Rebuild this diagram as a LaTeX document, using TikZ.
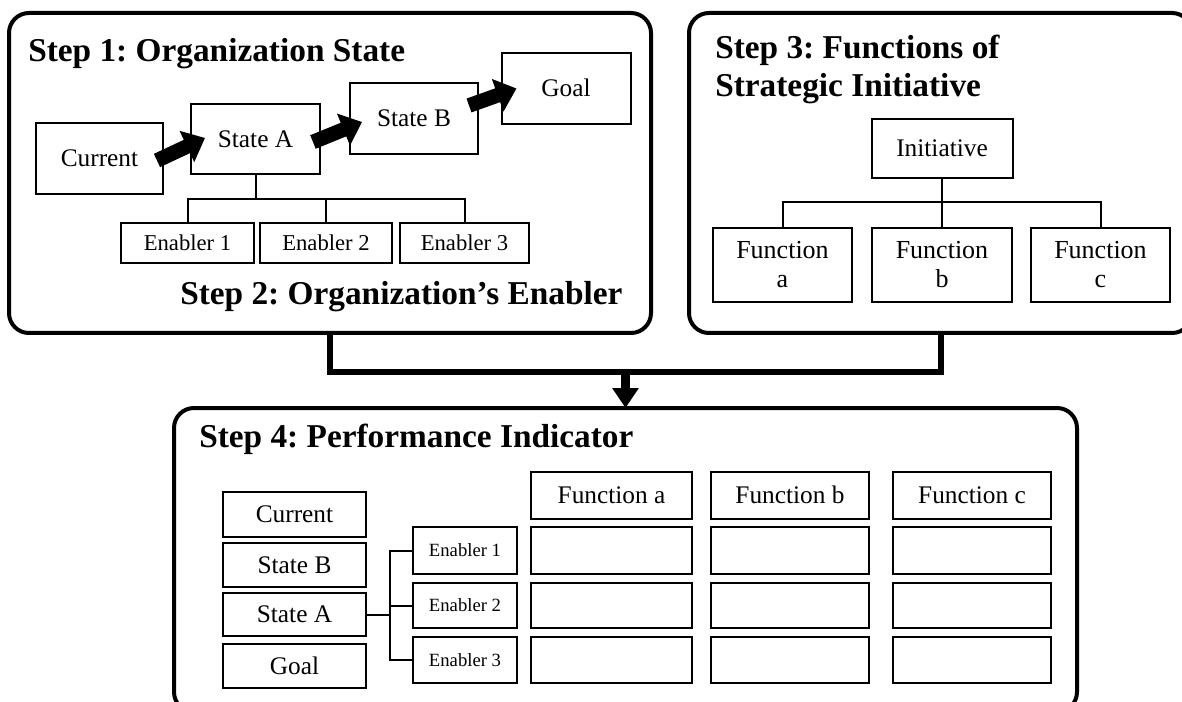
\documentclass[tikz,border=0pt]{standalone}
\usepackage{fontspec}
\setmainfont{Liberation Serif}
\usetikzlibrary{arrows.meta,calc}
\frenchspacing
\begin{document}
\frenchspacing
\begin{tikzpicture}[x=0.75pt,y=-0.75pt,
  bx/.style 2 args={draw,line width=1.5pt,inner sep=0pt,outer sep=0pt,
    minimum width=#1*0.75pt,minimum height=#2*0.75pt,
    font=\fontsize{19}{22}\selectfont,align=center},
  oneline/.style={text height=16.5pt,text depth=4pt},
  smallline/.style={font=\fontsize{17}{20}\selectfont,text height=14.5pt,text depth=3.5pt},
  tinyline/.style={font=\fontsize{14}{16}\selectfont,text height=12pt,text depth=3pt},
  outerbox/.style 2 args={draw,line width=3pt,rounded corners=15pt,inner sep=0pt,outer sep=0pt,
    minimum width=#1*0.75pt,minimum height=#2*0.75pt},
  head/.style={font=\fontsize{25}{29}\selectfont\bfseries,inner sep=0pt},
  tree/.style={line width=1.5pt},
  bigarrow/.style={line width=11pt,-{Triangle[length=15pt,width=25pt]}},
  flow/.style={line width=4.5pt}
]
\useasboundingbox (0,0) rectangle (1182,702);
\clip (0,0) rectangle (1182,702);
\fill[white] (0,0) rectangle (1182,702);

% outer boxes
\node[outerbox={642}{320}] (s1) at (330,173) {};
\node[outerbox={503}{320}] (s3) at (940.5,173) {};
\node[outerbox={903}{304}] (s4) at (625.5,560) {};

% Step 1
\node[head,anchor=base west] (h1) at (28,62) {Step 1: Organization State};
\node[bx={127}{71},oneline] (cur) at (99.5,158.5) {Current};
\node[bx={129}{70},oneline] (sa) at (255.5,139) {State A};
\node[bx={128}{71},oneline] (sb) at (414,118.5) {State B};
\node[bx={129}{71},oneline] (goal) at (566,88.5) {Goal};
\node[bx={133}{40},smallline] (e1) at (187.5,243) {Enabler 1};
\node[bx={132}{40},smallline] (e2) at (326,243) {Enabler 2};
\node[bx={129}{40},smallline] (e3) at (464.5,243) {Enabler 3};
\draw[tree] (sa.south) -- ++(0,25);
\draw[tree] (e1.north) -- ++(0,-24) -| (e3.north);
\draw[tree] (e2.north) -- ++(0,-24);
\draw[bigarrow] ($(cur.east)+(-6,2)$) -- ($(sa.west)+(14,-1)$);
\draw[bigarrow] ($(sa.east)+(-7,3)$) -- ($(sb.west)+(12,3.5)$);
\draw[bigarrow] ($(sb.east)+(-9,-13)$) -- ($(goal.west)+(15,0)$);
\node[head,anchor=base west] (h2) at (180,305) {Step 2: Organization’s Enabler};

% Step 3
\node[head,anchor=base west] (h3a) at (715,59) {Step 3: Functions of};
\node[head,anchor=base west] (h3b) at (715,97) {Strategic Initiative};
\node[bx={141}{59},oneline] (init) at (942,148.5) {Initiative};
\node[bx={139}{74},font=\fontsize{19.5}{21.75}\selectfont] (fa) at (782.5,265) {Function\\a};
\node[bx={140}{74},font=\fontsize{19.5}{21.75}\selectfont] (fb) at (942,265) {Function\\b};
\node[bx={139}{74},font=\fontsize{19.5}{21.75}\selectfont] (fc) at (1100.5,265) {Function\\c};
\draw[tree] (init.south) -- (fb.north);
\draw[tree] (fa.north) -- ++(0,-26) -| (fc.north);

% connectors between steps
\coordinate (j) at (626,372);
\draw[flow] (s1.south) |- (s3.south |- j) -- (s3.south);
\draw[line width=7pt,-{Triangle[length=15pt,width=19pt]}] (s4.north |- j) -- (s4.north);

% Step 4
\node[head,anchor=base west] (h4) at (199,447) {Step 4: Performance Indicator};
\node[bx={143}{45},oneline] (lcur) at (294.5,514.5) {Current};
\node[bx={143}{44},oneline] (lsb) at (294.5,565) {State B};
\node[bx={143}{43},oneline] (lsa) at (294.5,614.5) {State A};
\node[bx={143}{44},oneline] (lgoal) at (294.5,666) {Goal};
\node[bx={104}{47},tinyline] (en1) at (465,550.5) {Enabler 1};
\node[bx={104}{45},tinyline] (en2) at (465,605.5) {Enabler 2};
\node[bx={104}{46},tinyline] (en3) at (465,660) {Enabler 3};
\draw[tree] (lsa.east) -- ++(24,0);
\draw[tree] (en1.west) -- ++(-23,0) |- (en3.west);
\draw[tree] (en2.west) -- ++(-23,0);
\node[bx={161}{47},oneline] (hfa) at (611.5,495.5) {Function a};
\node[bx={158}{47},oneline] (hfb) at (790,495.5) {Function b};
\node[bx={158}{47},oneline] (hfc) at (972,495.5) {Function c};
\foreach \c/\x/\w in {a/611.5/161,b/790/158,c/972/158}{
  \foreach \r/\y/\h in {1/550.5/47,2/605.5/45,3/660/46}{
    \node[bx={\w}{\h}] (c\c\r) at (\x,\y) {};
  }
}
\end{tikzpicture}
\end{document}
